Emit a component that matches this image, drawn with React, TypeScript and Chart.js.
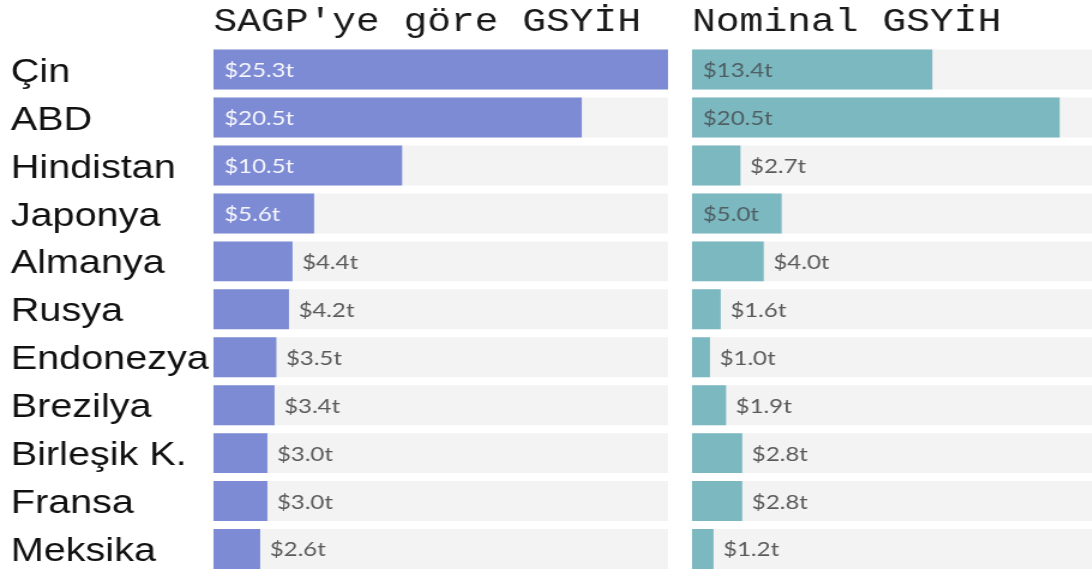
import React, { useEffect, useRef } from "react";
import { Chart, registerables } from "chart.js";

Chart.register(...registerables);

const countries = ["Çin", "ABD", "Hindistan", "Japonya", "Almanya", "Rusya", "Endonezya", "Brezilya", "Birleşik K.", "Fransa", "Meksika"];
const pppGdp = [25.3, 20.5, 10.5, 5.6, 4.4, 4.2, 3.5, 3.4, 3.0, 3.0, 2.6];
const nominalGdp = [13.4, 20.5, 2.7, 5.0, 4.0, 1.6, 1.0, 1.9, 2.8, 2.8, 1.2];
const pppTitle = "SAGP'ye göre GSYİH";
const nominalTitle = "Nominal GSYİH";
const pppAxisMax = 25.3;
const nominalAxisMax = 22.3;
const insideThreshold = 5;

type PanelProps = {
  title: string;
  values: number[];
  axisMax: number;
  barColor: string;
  insideColor: string;
  showLabels: boolean;
  internalWidth: number;
  displayWidth: number;
  padLeft: number;
  padRight: number;
  axisWidth: number;
};

function Panel(p: PanelProps) {
  const ref = useRef<HTMLCanvasElement | null>(null);
  useEffect(() => {
    const canvas = ref.current;
    if (!canvas) return;
    const labelPlugin = {
      id: "valueLabels",
      afterDatasetsDraw(chart: any) {
        const ctx = chart.ctx;
        const meta = chart.getDatasetMeta(0);
        const data = chart.data.datasets[0].data as number[];
        ctx.save();
        ctx.font = "20px Lato";
        ctx.textBaseline = "middle";
        ctx.textAlign = "left";
        meta.data.forEach((bar: any, i: number) => {
          const v = data[i];
          const inside = v >= insideThreshold;
          const x = inside ? bar.base + 9 : bar.x + 8;
          ctx.fillStyle = inside ? p.insideColor : "#5a5a5a";
          ctx.fillText(`$${v.toFixed(1)}t`, x, bar.y + 1);
        });
        ctx.restore();
      },
    };
    const chart = new Chart(canvas, {
      type: "bar",
      data: {
        labels: countries,
        datasets: [
          {
            data: p.values,
            backgroundColor: p.barColor,
            borderWidth: 0,
            grouped: false,
            order: 0,
            categoryPercentage: 1,
            barPercentage: 0.833,
          },
          {
            data: countries.map(() => p.axisMax),
            backgroundColor: "#f3f3f3",
            borderWidth: 0,
            grouped: false,
            order: 1,
            categoryPercentage: 1,
            barPercentage: 0.833,
          },
        ],
      },
      options: {
        indexAxis: "y",
        animation: false,
        responsive: false,
        maintainAspectRatio: false,
        devicePixelRatio: 1,
        layout: { padding: { left: p.padLeft, right: p.padRight, top: 0, bottom: 3 } },
        scales: {
          x: { display: false, min: 0, max: p.axisMax },
          y: {
            display: p.showLabels,
            grid: { display: false },
            border: { display: false },
            ticks: {
              crossAlign: "far",
              color: "#111111",
              font: { family: "Liberation Sans", size: 33 },
              padding: 0,
              labelOffset: 3,
            },
            afterFit: (scale: any) => {
              if (p.showLabels) scale.width = p.axisWidth;
              scale.paddingTop = 0;
              scale.paddingBottom = 0;
            },
          },
        },
        plugins: {
          legend: { display: false },
          tooltip: { enabled: false },
          title: {
            display: true,
            text: p.title,
            align: "start",
            fullSize: false,
            color: "#1a1a1a",
            font: { family: "Liberation Mono", size: 33, weight: "normal" },
            padding: { top: 2, bottom: 4 },
          },
        },
      },
      plugins: [labelPlugin],
    } as any);
    return () => chart.destroy();
  }, []);
  return (
    <canvas
      ref={ref}
      width={p.internalWidth}
      height={576}
      style={{ width: p.displayWidth + "px", height: "576px", display: "block", flex: "none" }}
    />
  );
}

export default function App() {
  return (
    <div style={{ position: "absolute", left: 0, top: 0, width: 1092, height: 576, display: "flex", background: "#fff" }}>
      <Panel
        title={pppTitle}
        values={pppGdp}
        axisMax={pppAxisMax}
        barColor="#7c8bd3"
        insideColor="#f6f6ff"
        showLabels={true}
        internalWidth={567}
        displayWidth={680}
        padLeft={9}
        padRight={10}
        axisWidth={169}
      />
      <Panel
        title={nominalTitle}
        values={nominalGdp}
        axisMax={nominalAxisMax}
        barColor="#7cb8c0"
        insideColor="#4f5f63"
        showLabels={false}
        internalWidth={343}
        displayWidth={412}
        padLeft={10}
        padRight={0}
        axisWidth={0}
      />
    </div>
  );
}
